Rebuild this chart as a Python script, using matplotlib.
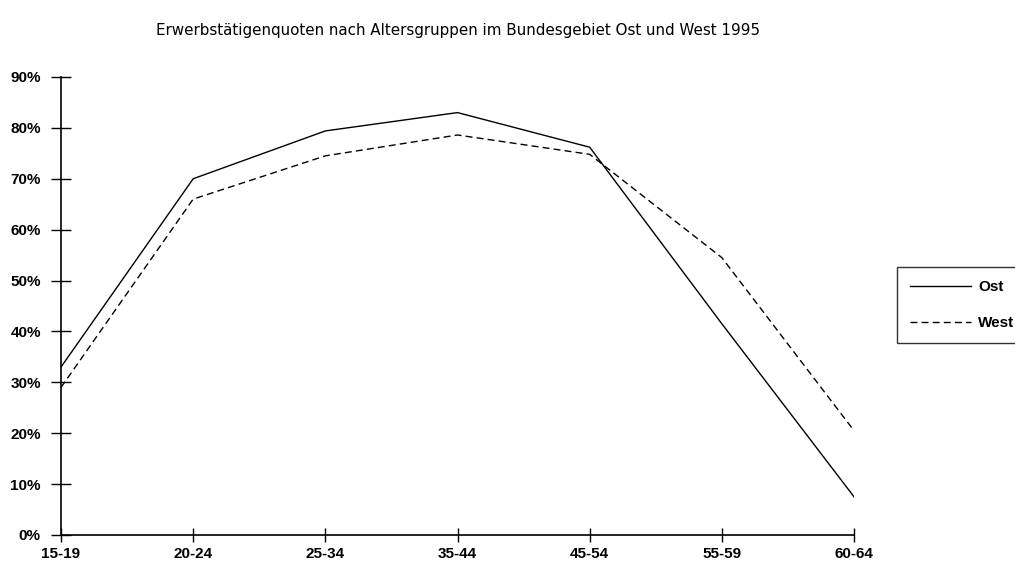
import numpy as np
import matplotlib
matplotlib.use('Agg')
import matplotlib.pyplot as plt
import matplotlib.ticker as ticker

plt.rcParams['font.family'] = ['Liberation Sans', 'DejaVu Sans']

groups = ['15-19', '20-24', '25-34', '35-44', '45-54', '55-59', '60-64']
ost = [33.0, 70.0, 79.4, 83.0, 76.2, 41.5, 7.5]
west = [29.0, 66.0, 74.5, 78.6, 74.8, 54.5, 20.5]

fig = plt.figure(figsize=(10.15, 5.66), dpi=100)
ax = fig.add_axes([0.0601, 0.0548, 0.7813, 0.8092])

x = np.arange(len(groups))
ax.plot(x, ost, color='black', linewidth=1.0, label='Ost')
ax.plot(x, west, color='black', linewidth=1.0, linestyle=(0, (5, 3)), label='West')

ax.set_xlim(0, len(groups) - 1)
ax.set_ylim(0, 90)
ax.set_xticks(x)
ax.set_xticklabels(groups, fontsize=11, fontweight='bold')
ax.yaxis.set_major_locator(ticker.MultipleLocator(10))
ax.yaxis.set_major_formatter(ticker.FuncFormatter(lambda v, p: '%d%%' % v))
for lab in ax.get_yticklabels():
    lab.set_fontsize(11)
    lab.set_fontweight('bold')

ax.spines['top'].set_visible(False)
ax.spines['right'].set_visible(False)
ax.spines['left'].set_linewidth(1.2)
ax.spines['bottom'].set_linewidth(1.2)
ax.tick_params(axis='y', direction='inout', length=15, width=1, pad=7)
ax.tick_params(axis='x', direction='inout', length=10, width=1, pad=4)

fig.suptitle('Erwerbstätigenquoten nach Altersgruppen im Bundesgebiet Ost und West 1995',
             x=0.451, y=0.96, fontsize=10.9, family=['DejaVu Sans'])

leg = fig.legend(loc='upper left', bbox_to_anchor=(0.8837, 0.5283),
                 frameon=True, fancybox=False, handlelength=4.0,
                 borderpad=0.85, labelspacing=1.45, handletextpad=0.45,
                 borderaxespad=0, prop={'size': 11, 'weight': 'bold'})
leg.get_frame().set_edgecolor('black')
leg.get_frame().set_linewidth(1.0)

fig.savefig('out.png', dpi=100)
